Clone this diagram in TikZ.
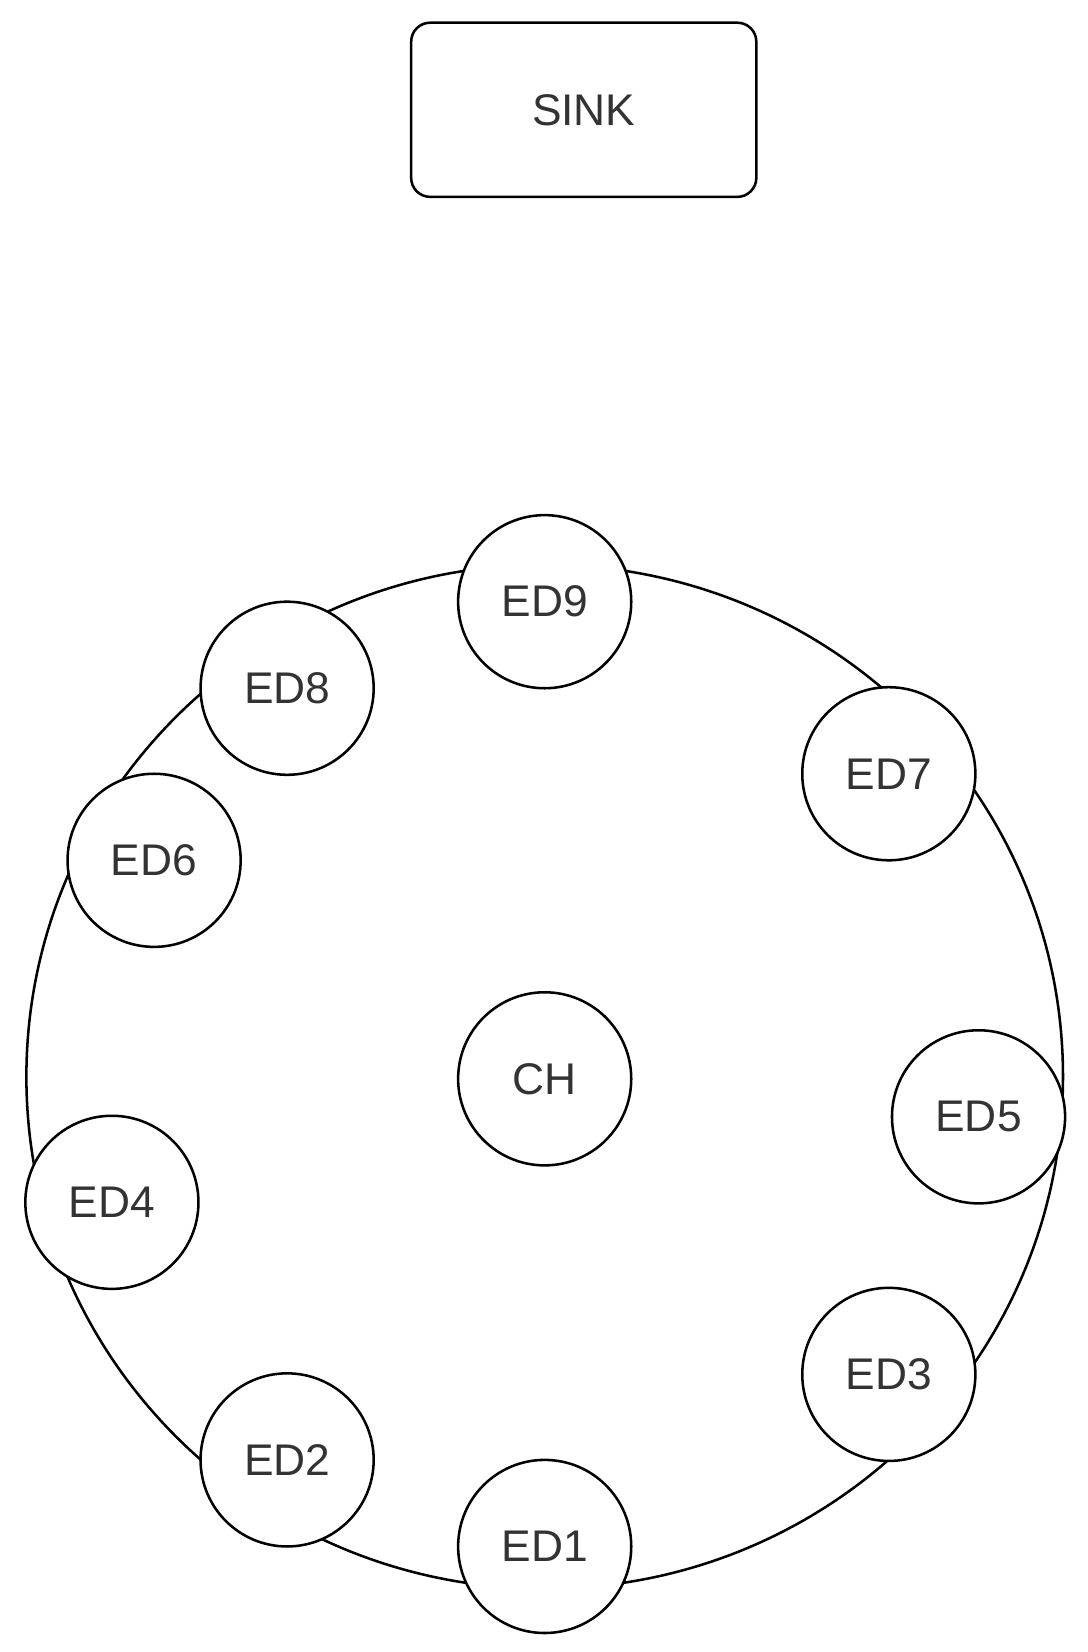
\documentclass[tikz,border=0pt]{standalone}
\usepackage{fontspec}
\setmainfont{Liberation Sans}
\begin{document}
\begin{tikzpicture}[x=1pt,y=-1pt,line width=2.4pt,
  ed/.style={circle,draw,fill=white,minimum size=164pt,inner sep=0pt,font=\fontsize{42}{48}\selectfont,text=black!80},
  sinkbox/.style={draw,rounded corners=18pt,minimum width=327pt,minimum height=165pt,font=\fontsize{42}{48}\selectfont,text=black!80}]
\useasboundingbox (0,0) rectangle (1030,1565);
\node[sinkbox] (sink) at (553,104) {SINK};
\draw (516,1020) ellipse [x radius=491, y radius=485];
\node[ed] (ch) at (516,1022) {CH};
\node[ed] (e9) at (516,570) {ED9};
\node[ed] (e8) at (272,652) {ED8};
\node[ed] (e7) at (842,733) {ED7};
\node[ed] (e6) at (146,815) {ED6};
\node[ed] (e5) at (927,1058) {ED5};
\node[ed] (e4) at (106,1139) {ED4};
\node[ed] (e3) at (842,1302) {ED3};
\node[ed] (e2) at (272,1383) {ED2};
\node[ed] (e1) at (516,1465) {ED1};
\end{tikzpicture}
\end{document}
